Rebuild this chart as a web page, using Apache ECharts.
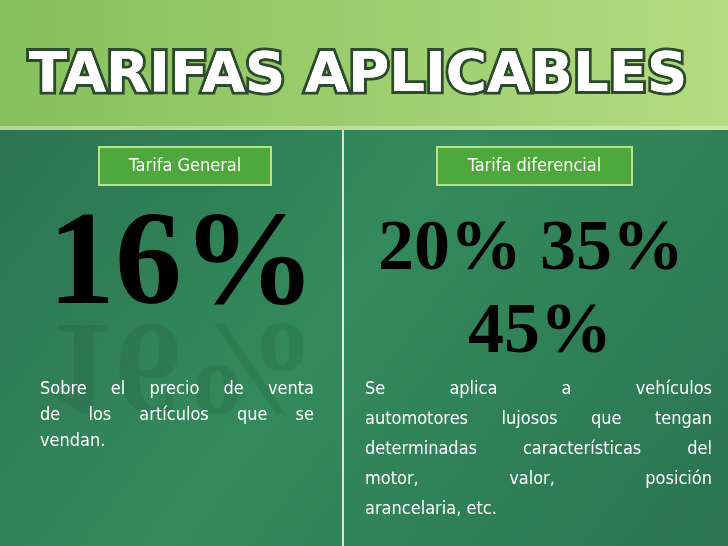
<!DOCTYPE html>
<html><head><meta charset="utf-8">
<script src="https://cdn.jsdelivr.net/npm/echarts@6/dist/echarts.min.js"></script>
<style>html,body{margin:0;padding:0}#c{width:728px;height:546px}</style></head>
<body><div id="c"></div>
<script>
const title = 'TARIFAS APLICABLES';
const boxLabels = ['Tarifa General', 'Tarifa diferencial'];
const generalRates = ['16%'];
const diffRates = ['20%', '35%', '45%'];
const leftLines = ['Sobre el precio de venta', 'de los artículos que se', 'vendan.'];
const rightLines = ['Se aplica a vehículos', 'automotores lujosos que tengan', 'determinadas características del', 'motor, valor, posición', 'arancelaria, etc.'];

const bodyFont = '18px "DejaVu Sans Condensed"';
const ctx = document.createElement('canvas').getContext('2d');
ctx.font = bodyFont;
function justified(lines, x0, x1, y0, lh) {
  const els = [];
  lines.forEach((ln, i) => {
    const y = y0 + i * lh;
    const words = ln.split(' ');
    const last = i === lines.length - 1;
    if (last || words.length < 2) {
      els.push({type:'text', style:{text:ln, x:x0, y, font:bodyFont, fill:'#fff', textVerticalAlign:'middle'}});
      return;
    }
    const wsum = words.reduce((s, w) => s + ctx.measureText(w).width, 0);
    const gap = (x1 - x0 - wsum) / (words.length - 1);
    let x = x0;
    words.forEach(w => {
      els.push({type:'text', style:{text:w, x, y, font:bodyFont, fill:'#fff', textVerticalAlign:'middle'}});
      x += ctx.measureText(w).width + gap;
    });
  });
  return els;
}
function box(label, x, w) {
  return [
    {type:'rect', shape:{x, y:147, width:w, height:38}, style:{fill:'#4fa83c', stroke:'#b9e08a', lineWidth:2}},
    {type:'text', style:{text:label, x:x + w/2, y:166, font:'18px "DejaVu Sans Condensed"', fill:'#fff', textAlign:'center', textVerticalAlign:'middle'}}
  ];
}
const serif = 'bold {s}px "Liberation Serif"';
const chart = echarts.init(document.getElementById('c'));
const els = [
  {type:'rect', shape:{x:0, y:0, width:728, height:546}, style:{fill:new echarts.graphic.LinearGradient(0,0,1,1,[{offset:0,color:'#2a7050'},{offset:0.5,color:'#348a5c'},{offset:1,color:'#2b7451'}])}},
  {type:'rect', shape:{x:0, y:0, width:728, height:130}, style:{fill:new echarts.graphic.LinearGradient(0,0,1,0,[{offset:0,color:'#86c05c'},{offset:0.6,color:'#a2d072'},{offset:1,color:'#b4dc80'}])}},
  {type:'rect', shape:{x:0, y:126, width:728, height:4}, style:{fill:'rgba(255,255,255,0.35)'}},
  {type:'line', shape:{x1:343, y1:130, x2:343, y2:546}, style:{stroke:'rgba(255,255,255,0.8)', lineWidth:2}},
  {type:'text', style:{text:title, x:358, y:76, font:'bold 56px "DejaVu Sans"', fill:'#fff', stroke:'#2c4a2c', lineWidth:6, textAlign:'center', textVerticalAlign:'middle'}, z:5},
  {type:'text', style:{text:title, x:358, y:76, font:'bold 56px "DejaVu Sans"', fill:'#fff', textAlign:'center', textVerticalAlign:'middle'}, z:6},
  ...box(boxLabels[0], 99, 172),
  ...box(boxLabels[1], 437, 195),
  {type:'text', style:{text:generalRates[0], x:182, y:268, font:serif.replace('{s}',134), fill:'#000', textAlign:'center', textVerticalAlign:'middle'}},
  {type:'text', scaleY:-1, originY:314, style:{text:generalRates[0], x:182, y:268, font:serif.replace('{s}',134), fill:'rgba(0,0,0,0.08)', textAlign:'center', textVerticalAlign:'middle'}},
  {type:'text', style:{text:diffRates[0] + ' ' + diffRates[1], x:531, y:250, font:serif.replace('{s}',72), fill:'#000', textAlign:'center', textVerticalAlign:'middle'}},
  {type:'text', style:{text:diffRates[2], x:540, y:333, font:serif.replace('{s}',72), fill:'#000', textAlign:'center', textVerticalAlign:'middle'}},
  ...justified(leftLines, 40, 314, 389, 26),
  ...justified(rightLines, 365, 712, 389, 30)
];
chart.setOption({animation:false, graphic:{elements:els}});
</script></body></html>
